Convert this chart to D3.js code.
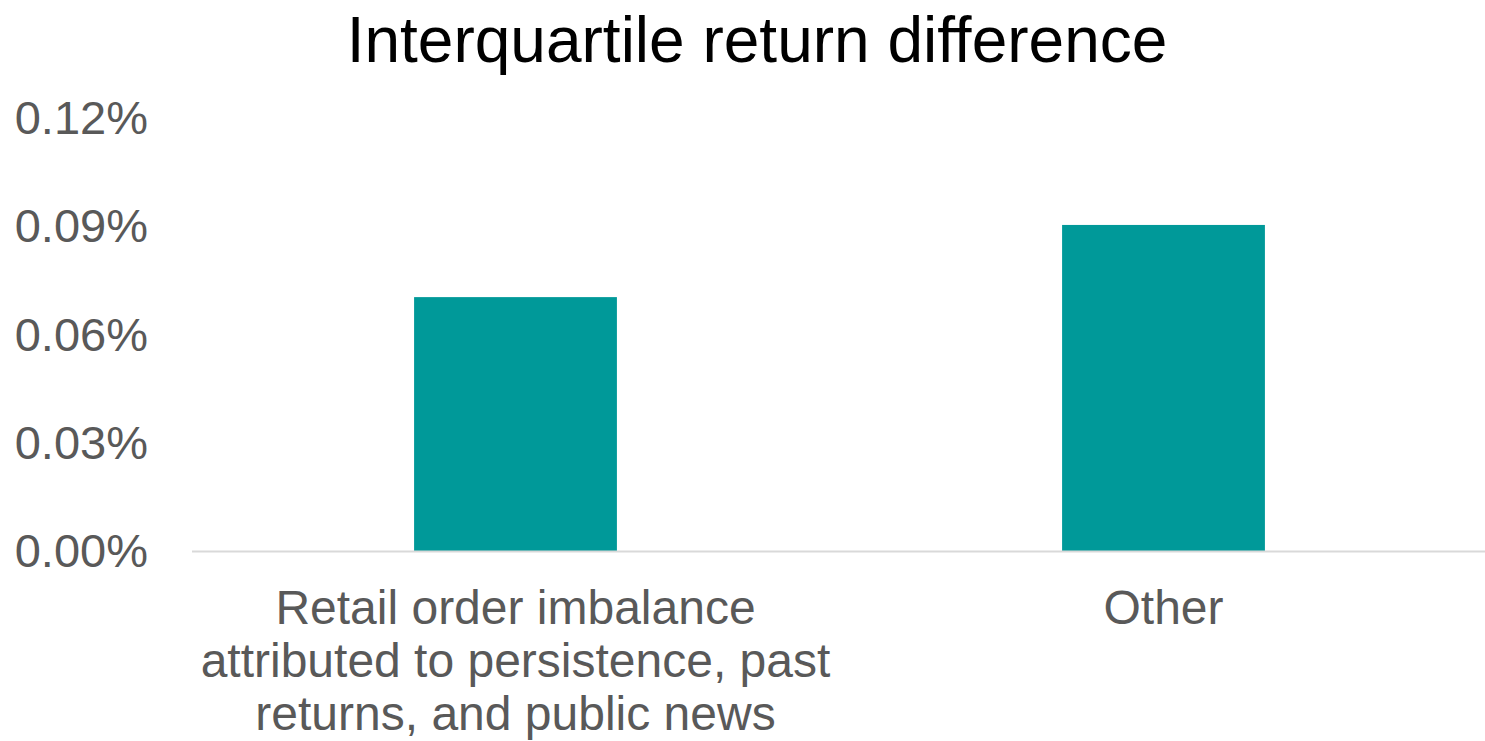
<!DOCTYPE html>
<html>
<head>
<meta charset="utf-8">
<script src="https://cdn.jsdelivr.net/npm/d3@7"></script>
<style>
  html, body { margin: 0; padding: 0; background: #fff; }
  svg { display: block; }
  text { font-family: "Liberation Sans", Arial, sans-serif; }
</style>
</head>
<body>
<svg id="chart" width="1485" height="741"></svg>
<script>
const title = "Interquartile return difference";
const categories = [
  ["Retail order imbalance", "attributed to persistence, past", "returns, and public news"],
  ["Other"]
];
const categoryKeys = ["retail", "other"];
const values = [0.0705, 0.0905];
const yTicks = [0, 0.03, 0.06, 0.09, 0.12];

const svg = d3.select("#chart");
const plotLeft = 191.5, plotRight = 1487.5, plotTop = 118.5, plotBottom = 551.5;

const x = d3.scaleBand()
  .domain(categoryKeys)
  .range([plotLeft, plotRight])
  .paddingInner(0.687)
  .paddingOuter(0.3435);

const y = d3.scaleLinear().domain([0, 0.12]).range([plotBottom, plotTop]);

// title
svg.append("text")
  .attr("x", 757)
  .attr("y", 62)
  .attr("text-anchor", "middle")
  .attr("font-size", 64)
  .attr("fill", "#000")
  .text(title);

// y axis labels
const yAxis = d3.axisLeft(y)
  .tickValues(yTicks)
  .tickSize(0)
  .tickPadding(0)
  .tickFormat(d => d.toFixed(2) + "%");
const yg = svg.append("g").attr("transform", "translate(148,0)").call(yAxis);
yg.select(".domain").remove();
yg.selectAll("text")
  .attr("font-family", "Liberation Sans, Arial, sans-serif")
  .attr("font-size", 47)
  .attr("fill", "#595959");

// bars
svg.selectAll("rect.bar")
  .data(values)
  .enter().append("rect")
  .attr("class", "bar")
  .attr("x", (d, i) => x(categoryKeys[i]))
  .attr("width", x.bandwidth())
  .attr("y", d => y(d))
  .attr("height", d => y(0) - y(d))
  .attr("fill", "#009999");

// x axis
const xAxis = d3.axisBottom(x).tickSize(0).tickFormat(() => "");
const xg = svg.append("g").attr("transform", `translate(0,${y(0)})`).call(xAxis);
xg.select(".domain")
  .attr("stroke", "#d9d9d9")
  .attr("stroke-width", 2)
  .attr("d", `M${plotLeft + 0.5},0H1485`);

// category labels
categoryKeys.forEach((k, i) => {
  const t = svg.append("text")
    .attr("x", x(k) + x.bandwidth() / 2)
    .attr("y", 624)
    .attr("text-anchor", "middle")
    .attr("font-size", 48)
    .attr("fill", "#595959");
  categories[i].forEach((line, j) => {
    t.append("tspan")
      .attr("x", x(k) + x.bandwidth() / 2)
      .attr("dy", j === 0 ? 0 : 53)
      .text(line);
  });
});
</script>
</body>
</html>
